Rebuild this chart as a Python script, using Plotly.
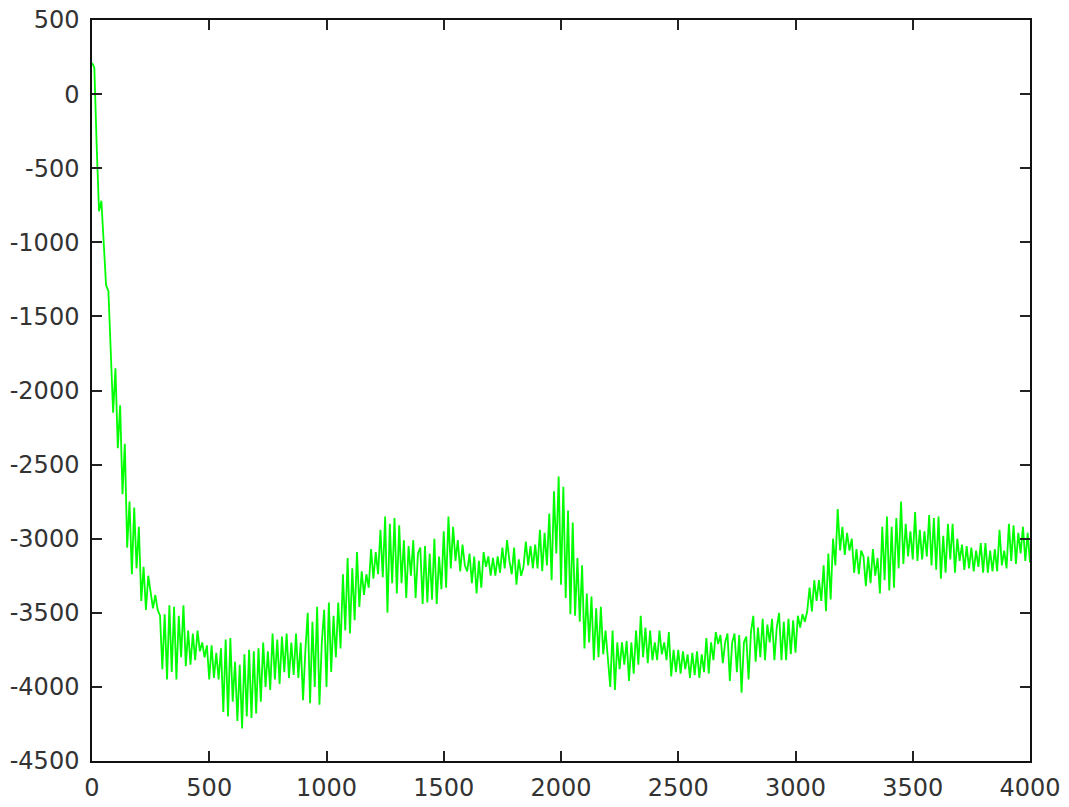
import numpy as np
import plotly.graph_objects as go

y_values = [
    210, 180, -350, -790, -720, -1060, -1290, -1330, -1800, -2150,
    -1850, -2390, -2100, -2700, -2360, -3060, -2750, -3240, -2790, -3200,
    -2920, -3420, -3190, -3480, -3250, -3380, -3470, -3380, -3480, -3520,
    -3880, -3510, -3950, -3450, -3900, -3460, -3950, -3520, -3800, -3450,
    -3860, -3620, -3850, -3640, -3820, -3620, -3760, -3700, -3800, -3720,
    -3950, -3720, -3940, -3770, -3950, -3740, -4170, -3680, -4200, -3670,
    -4100, -3830, -4230, -3850, -4280, -3780, -4200, -3750, -4210, -3760,
    -4180, -3740, -4100, -3700, -4000, -3760, -4020, -3640, -3950, -3680,
    -3980, -3660, -3900, -3640, -3940, -3700, -3920, -3640, -3940, -3700,
    -4090, -3750, -3500, -4110, -3560, -4000, -3460, -4120, -3700, -3480,
    -4000, -3430, -3900, -3520, -3800, -3430, -3740, -3240, -3620, -3130,
    -3640, -3200, -3550, -3090, -3460, -3220, -3380, -3240, -3330, -3070,
    -3270, -3090, -3240, -2940, -3260, -2850, -3500, -2900, -3300, -2860,
    -3370, -2910, -3300, -3010, -3400, -3050, -3250, -3010, -3400, -3100,
    -3060, -3440, -3050, -3430, -3100, -3410, -3000, -3440, -3120, -3340,
    -2950, -3330, -2850, -3200, -2920, -3150, -3010, -3220, -3040, -3180,
    -3220, -3100, -3300, -3120, -3370, -3150, -3330, -3090, -3190, -3120,
    -3250, -3130, -3250, -3120, -3230, -3060, -3200, -3010, -3150, -3240,
    -3060, -3310, -3140, -3250, -3190, -3020, -3180, -3050, -3200, -3040,
    -3200, -2940, -3220, -2960, -3180, -2830, -3280, -2680, -3100, -2580,
    -3310, -2650, -3400, -2810, -3510, -2890, -3520, -3130, -3560, -3180,
    -3740, -3370, -3700, -3390, -3820, -3470, -3800, -3460, -3780, -3620,
    -3800, -4000, -3620, -4020, -3700, -3880, -3700, -3850, -3690, -3960,
    -3700, -3910, -3620, -3850, -3520, -3800, -3600, -3840, -3620, -3820,
    -3700, -3820, -3620, -3780, -3700, -3820, -3630, -3930, -3750, -3900,
    -3750, -3910, -3760, -3880, -3780, -3940, -3770, -3920, -3760, -3940,
    -3780, -3900, -3670, -3910, -3700, -3820, -3630, -3710, -3650, -3840,
    -3700, -3640, -3960, -3700, -3640, -3900, -3650, -4040, -3700, -3660,
    -3950, -3630, -3520, -3830, -3600, -3800, -3540, -3820, -3580, -3700,
    -3540, -3820, -3600, -3500, -3820, -3560, -3820, -3540, -3780, -3550,
    -3770, -3520, -3600, -3510, -3560, -3490, -3330, -3490, -3280, -3420,
    -3280, -3420, -3180, -3490, -3100, -3410, -3000, -3180, -2800, -3080,
    -2920, -3110, -2960, -3080, -3000, -3230, -3070, -3240, -3080, -3120,
    -3320, -3120, -3300, -3070, -3250, -3130, -3370, -2920, -3280, -2850,
    -3350, -2920, -3330, -2860, -3200, -2750, -3170, -2900, -3120, -2950,
    -3140, -2820, -3150, -2940, -3140, -2950, -3120, -2840, -3180, -2860,
    -3210, -2850, -3270, -2980, -3230, -2900, -3140, -2900, -3230, -3000,
    -3150, -3040, -3210, -3050, -3200, -3060, -3220, -3080, -3190, -3030,
    -3230, -3030, -3230, -3080, -3220, -3070, -3220, -2940, -3180, -3080,
    -3200, -2900, -3150, -2910, -3170, -2960, -3100, -2920, -3150, -2960,
    -3160,
]
x_start, x_end = 0, 4000

x_tick_vals = [0, 500, 1000, 1500, 2000, 2500, 3000, 3500, 4000]
x_tick_text = ["0", "500", "1000", "1500", "2000", "2500", "3000", "3500", "4000"]
y_tick_vals = [500, 0, -500, -1000, -1500, -2000, -2500, -3000, -3500, -4000, -4500]
y_tick_text = ["500", "0", "-500", "-1000", "-1500", "-2000", "-2500",
               "-3000", "-3500", "-4000", "-4500"]

x_values = np.linspace(x_start, x_end, len(y_values))

fig = go.Figure()
fig.add_trace(go.Scatter(
    x=x_values, y=y_values, mode="lines",
    line=dict(color="#00ff00", width=1.8),
    showlegend=False, hoverinfo="skip",
))

axis_common = dict(
    showgrid=False, zeroline=False, automargin=False,
    showline=True, linecolor="#111111", linewidth=1.5,
    mirror="ticks", ticks="inside", ticklen=10, tickwidth=1.5, tickcolor="#222222",
    tickfont=dict(family="DejaVu Sans", size=24, color="#333333"),
)

fig.update_xaxes(range=[x_start, x_end], tickvals=x_tick_vals, ticktext=x_tick_text,
                 ticklabelstandoff=4, **axis_common)
fig.update_yaxes(range=[-4500, 500], tickvals=y_tick_vals, ticktext=y_tick_text,
                 ticklabelstandoff=6, **axis_common)

fig.update_layout(
    width=1069, height=807,
    margin=dict(l=92, r=39, t=20, b=46),
    paper_bgcolor="white", plot_bgcolor="white",
)

fig.write_html("out.html")
